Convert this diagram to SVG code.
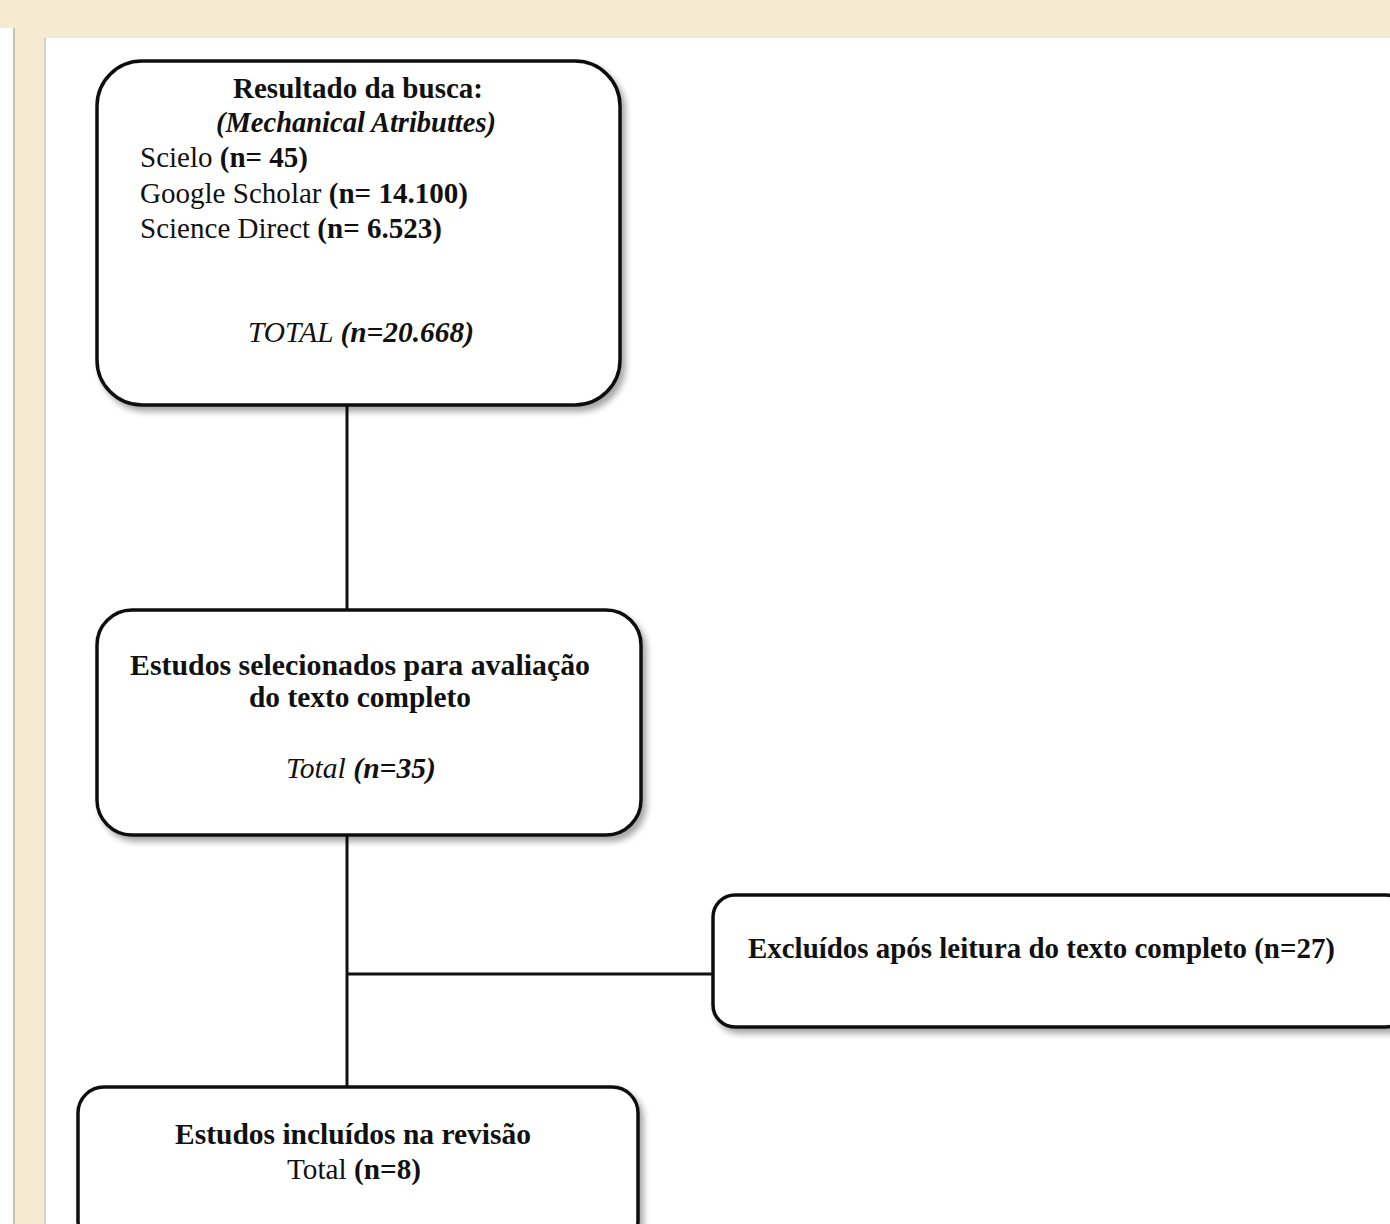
<svg xmlns="http://www.w3.org/2000/svg" width="1390" height="1224" viewBox="0 0 1390 1224">
<defs>
<filter id="sh" x="-5%" y="-5%" width="115%" height="115%">
<feGaussianBlur in="SourceAlpha" stdDeviation="3"/>
<feOffset dx="4" dy="5" result="b"/>
<feComponentTransfer><feFuncA type="linear" slope="0.35"/></feComponentTransfer>
<feMerge><feMergeNode/><feMergeNode in="SourceGraphic"/></feMerge>
</filter>
</defs>
<style>
.box{fill:#fff;stroke:#111;stroke-width:3.5}
.ln{stroke:#111;stroke-width:3;fill:none}
text{font-family:"Liberation Serif","Times New Roman",serif;font-size:29px;fill:#111}
.b{font-weight:bold}
.i{font-style:italic}
.h{font-size:30px}
</style>
<rect x="0" y="0" width="1390" height="1224" fill="#f6ead2"/>
<rect x="0" y="28" width="14" height="1196" fill="#fff"/>
<rect x="45" y="38" width="1345" height="1186" fill="#fff"/>
<line x1="45" y1="38" x2="45" y2="1224" stroke="#d8d0c0" stroke-width="2"/>
<line x1="14" y1="28" x2="14" y2="1224" stroke="#c8c0b0" stroke-width="2"/>

<g id="connectors">
<line class="ln" x1="347" y1="405" x2="347" y2="610"/>
<line class="ln" x1="347" y1="835" x2="347" y2="1087"/>
<line class="ln" x1="347" y1="974" x2="713" y2="974"/>
</g>

<g id="node-busca">
<rect class="box" x="97" y="61" width="523" height="344" rx="45" filter="url(#sh)"/>
<text class="b h" x="358" y="98" text-anchor="middle" textLength="250" lengthAdjust="spacingAndGlyphs">Resultado da busca:</text>
<text class="b i h" x="356" y="132" text-anchor="middle" textLength="280" lengthAdjust="spacingAndGlyphs">(Mechanical Atributtes)</text>
<text x="140" y="167" textLength="168" lengthAdjust="spacingAndGlyphs">Scielo <tspan class="b">(n= 45)</tspan></text>
<text x="140" y="203" textLength="328" lengthAdjust="spacingAndGlyphs">Google Scholar <tspan class="b">(n= 14.100)</tspan></text>
<text x="140" y="238" textLength="302" lengthAdjust="spacingAndGlyphs">Science Direct <tspan class="b">(n= 6.523)</tspan></text>
<text class="i" x="361" y="342" text-anchor="middle" textLength="226" lengthAdjust="spacingAndGlyphs">TOTAL <tspan class="b">(n=20.668)</tspan></text>
</g>

<g id="node-selecionados">
<rect class="box" x="97" y="610" width="544" height="225" rx="35" filter="url(#sh)"/>
<text class="b h" x="360" y="675" text-anchor="middle" textLength="460" lengthAdjust="spacingAndGlyphs">Estudos selecionados para avaliação</text>
<text class="b h" x="360" y="707" text-anchor="middle" textLength="222" lengthAdjust="spacingAndGlyphs">do texto completo</text>
<text class="i" x="361" y="778" text-anchor="middle" textLength="150" lengthAdjust="spacingAndGlyphs">Total <tspan class="b">(n=35)</tspan></text>
</g>

<g id="node-excluidos">
<rect class="box" x="713" y="895" width="695" height="132" rx="22" filter="url(#sh)"/>
<text class="b h" x="748" y="958" textLength="587" lengthAdjust="spacingAndGlyphs">Excluídos após leitura do texto completo (n=27)</text>
</g>

<g id="node-incluidos">
<rect class="box" x="78" y="1087" width="560" height="160" rx="26" filter="url(#sh)"/>
<text class="b h" x="353" y="1144" text-anchor="middle" textLength="356" lengthAdjust="spacingAndGlyphs">Estudos incluídos na revisão</text>
<text x="354" y="1179" text-anchor="middle" textLength="134" lengthAdjust="spacingAndGlyphs">Total <tspan class="b">(n=8)</tspan></text>
</g>
</svg>
